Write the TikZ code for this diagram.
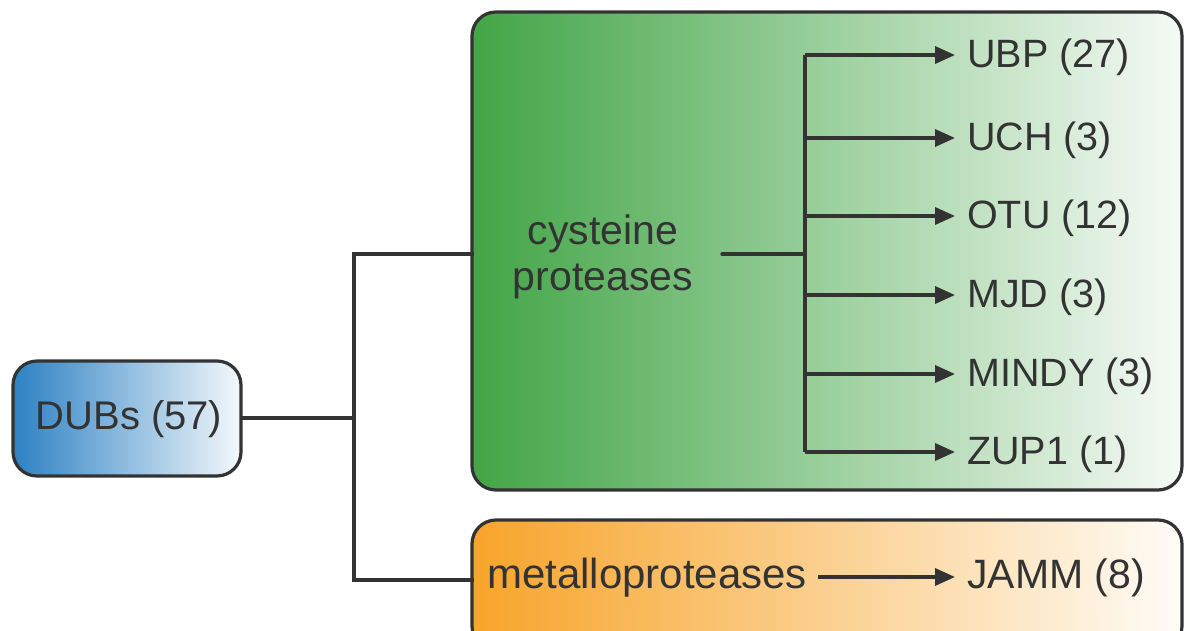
\documentclass[tikz,border=0pt]{standalone}
\usepackage{fontspec}
\setmainfont{Liberation Sans}
\usetikzlibrary{arrows.meta}
\definecolor{ink}{HTML}{333333}
\definecolor{gL}{HTML}{42A546}
\definecolor{gR}{HTML}{F5FAF5}
\definecolor{bL}{HTML}{2D81C3}
\definecolor{bR}{HTML}{F3F8FC}
\definecolor{oL}{HTML}{F7A42A}
\definecolor{oR}{HTML}{FFFCF7}
\tikzset{
  panel/.style={draw=ink, line width=3.2pt, rounded corners=24pt},
  conn/.style={draw=ink, line width=3.5pt},
  arr/.style={conn, -{Triangle[length=20pt,width=17pt]}},
  lbl/.style={text=ink, font=\fontsize{39.5}{44}\selectfont, inner sep=0pt, anchor=west},
  ctr/.style={text=ink, font=\fontsize{40}{46}\selectfont, inner sep=0pt, align=center}
}
\begin{document}
\begin{tikzpicture}[x=1pt,y=-1pt]
\useasboundingbox (0,0) rectangle (1184,631);
\clip (0,0) rectangle (1184,631);
% panels
\path[panel, left color=gL, right color=gR] (472,12) rectangle (1182,490);
\path[panel, left color=oL, right color=oR] (472,520) rectangle (1182,650);
\path[panel, left color=bL, right color=bR] (13,361) rectangle (241,476);
\node[ctr] (dubs) at (129,419) {DUBs (57)};
\coordinate (dubsE) at (241,418);
\coordinate (cysW) at (472,254);
\coordinate (metW) at (472,580);
\coordinate (j1) at (354,418);
\coordinate (j2) at (354,254);
\coordinate (j3) at (354,580);
\draw[conn] (dubsE) -- (j1);
\draw[conn] (j2) -- (j3);
\draw[conn, line cap=rect] (j2) -- (cysW);
\draw[conn, line cap=rect] (j3) -- (metW);
% cysteine
\node[ctr, font=\fontsize{41}{46}\selectfont] (cys) at (603,257) {cysteine\\proteases};
\coordinate (cysE) at (722,254);
\coordinate (hub) at (805,254);
\coordinate (top) at (805,55);
\coordinate (bot) at (805,452);
\draw[conn, line cap=round] (cysE) -- (hub);
\draw[conn] (top) -- (bot);
\foreach \n/\y/\t in {ubp/55/{UBP (27)}, uch/138/{UCH (3)}, otu/216/{OTU (12)}, mjd/295/{MJD (3)}, mindy/374/{MINDY (3)}, zup/452/{ZUP1 (1)}}{
  \node[lbl] (\n) at (967,\y+2) {\t};
  \coordinate (s\n) at (805,\y);
  \draw[arr] (s\n) -- (955,\y);
}
% metallo
\node[ctr, font=\fontsize{42}{46}\selectfont] (met) at (647,578) {metalloproteases};
\node[lbl, font=\fontsize{41}{46}\selectfont] (jamm) at (967,578) {JAMM (8)};
\coordinate (metE) at (818,577);
\draw[arr] (metE) -- (955,577);
\end{tikzpicture}
\end{document}
